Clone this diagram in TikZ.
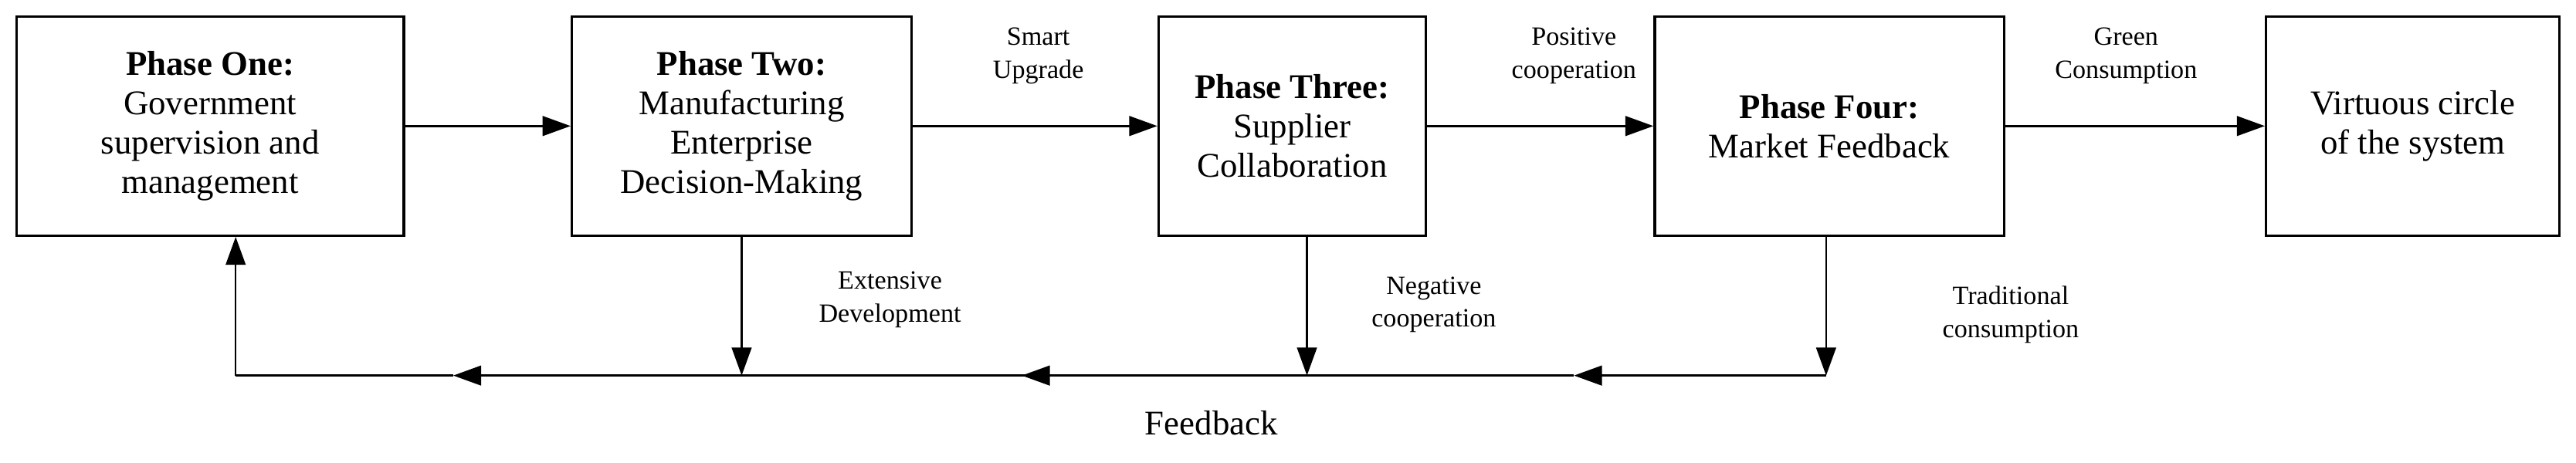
\documentclass[tikz,border=0pt]{standalone}
\usepackage{fontspec}
\setmainfont{Liberation Serif}
\usetikzlibrary{arrows.meta}
\begin{document}
\begin{tikzpicture}[x=0.5pt,y=-0.5pt,
  box/.style={draw,line width=0.8pt,inner sep=0pt,align=center,font=\fontsize{10.5}{12}\selectfont},
  lab/.style={align=center,font=\fontsize{8}{10}\selectfont},
  arr/.style={-{Triangle[length=8.5pt,width=6pt]},line width=0.6pt},
  ln/.style={line width=0.6pt}]
\useasboundingbox (0,0) rectangle (1563,281);
\node[box,minimum width=117.5pt,minimum height=66.5pt] (b1) at (127.5,76.5) {\textbf{Phase One}\textbf{:}\\Government\\supervision and\\management};
\node[box,minimum width=103pt,minimum height=66.5pt] (b2) at (450,76.5) {\textbf{Phase Two}\textbf{:}\\Manufacturing\\Enterprise\\Decision-Making};
\node[box,minimum width=81pt,minimum height=66.5pt] (b3) at (784,76.5) {\textbf{Phase Three:}\\Supplier\\Collaboration};
\node[box,minimum width=106pt,minimum height=66.5pt] (b4) at (1110,76.5) {\textbf{Phase Four}\textbf{:}\\Market Feedback};
\node[box,minimum width=89pt,minimum height=66.5pt] (b5) at (1464,76.5) {Virtuous circle\\of the system};
\draw[arr] (b1) -- (b2);
\draw[arr] (b2) -- (b3);
\draw[arr] (b3) -- (b4);
\draw[arr] (b4) -- (b5);
\node[lab] (l1) at (630,34) {Smart\\Upgrade};
\node[lab] (l2) at (955,34) {Positive\\cooperation};
\node[lab] (l3) at (1290,34) {Green\\Consumption};
\coordinate (c1) at (143,228);
\coordinate (c2) at (450,228);
\coordinate (c3) at (793,228);
\coordinate (c4) at (1108,228);
\coordinate (m1) at (275,228);
\coordinate (m2) at (620,228);
\coordinate (m3) at (955,228);
\draw[arr] (b2.south -| c2) -- (c2);
\draw[arr] (b3.south -| c3) -- (c3);
\draw[arr] (b4.south -| c4) -- (c4);
\draw[arr] (c4) -- (m3);
\draw[ln] (m3) -- (c3) -- (c2);
\draw[arr] (c3) -- (m2);
\draw[arr] (c2) -- (m1);
\draw[ln] (m1) -- (c1);
\draw[arr] (c1) -- (b1.south -| c1);
\node[lab] (l4) at (540,182) {Extensive\\Development};
\node[lab] (l5) at (870,185) {Negative\\cooperation};
\node[lab] (l6) at (1220,191) {Traditional\\consumption};
\node[font=\fontsize{10.5}{12}\selectfont] (fb) at (735,257) {Feedback};
\end{tikzpicture}
\end{document}
